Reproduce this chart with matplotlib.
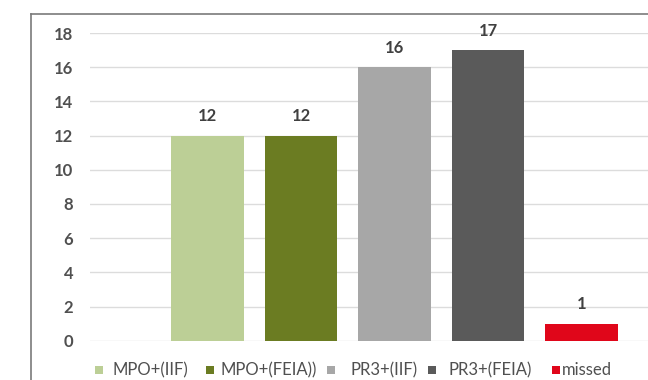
import matplotlib
matplotlib.use("Agg")
import matplotlib.pyplot as plt
from matplotlib.patches import Rectangle
from matplotlib.lines import Line2D

plt.rcParams['font.family'] = ['Lato', 'DejaVu Sans']

# Data
categories = ["MPO+(IIF)", "MPO+(FEIA))", "PR3+(IIF)", "PR3+(FEIA)", "missed"]
counts = [12, 12, 16, 17, 1]
colors = ["#bccf96", "#6b7c22", "#a7a7a7", "#5a5a5a", "#e0061a"]
y_ticks = [0, 2, 4, 6, 8, 10, 12, 14, 16, 18]

W, H = 648, 380
fig = plt.figure(figsize=(W / 100, H / 100), dpi=100)
fig.patch.set_facecolor("white")

def fx(px):
    return px / W

def fy(py):
    return 1 - py / H

# plot area in pixel terms
left_px, right_px = 90, 648
top_px, bottom_px = 33, 340.7
ax = fig.add_axes([fx(left_px), fy(bottom_px), fx(right_px - left_px),
                   (bottom_px - top_px) / H])

x = list(range(len(categories)))
bar_w = 0.78
ax.bar(x, counts, width=bar_w, color=colors, zorder=3)

for xi, v in zip(x, counts):
    ax.annotate(f"{v}", (xi, v), xytext=(0, 8), textcoords="offset points",
                ha="center", va="bottom", fontsize=12, color="#404040",
                fontweight="bold", annotation_clip=False)

step_px = 93.5
c0_px = 207.5
ax.set_xlim((left_px - c0_px) / step_px, (right_px - c0_px) / step_px)
ax.set_ylim(0, 18)
ax.set_yticks(y_ticks)
ax.set_yticklabels([str(t) for t in y_ticks], fontsize=12, color="#505050",
                   fontweight="bold")
ax.tick_params(axis="y", length=0, pad=12)
ax.set_xticks([])
ax.yaxis.grid(True, color="#dcdcdc", linewidth=1, zorder=0)
for s in ax.spines.values():
    s.set_visible(False)

# outer chart frame (top and left edges)
fig.add_artist(Line2D([fx(31), 1], [fy(14), fy(14)], color="#7a7a7a", linewidth=1.2))
fig.add_artist(Line2D([fx(31), fx(31)], [fy(14), 0], color="#7a7a7a", linewidth=1.2))

# legend along the bottom
sq_x = [95, 206, 327, 428, 552]
txt_x = [112, 220, 350, 448, 562]
leg_y = 370
sq = 8
for c, lab, sx, tx in zip(colors, categories, sq_x, txt_x):
    fig.add_artist(Rectangle((fx(sx), fy(leg_y + sq / 2)), fx(sq), sq / H,
                             facecolor=c, edgecolor="none"))
    fig.text(fx(tx), fy(leg_y), lab, ha="left", va="center", fontsize=12,
             color="#505050")

fig.savefig("out.png", dpi=100, facecolor="white")
